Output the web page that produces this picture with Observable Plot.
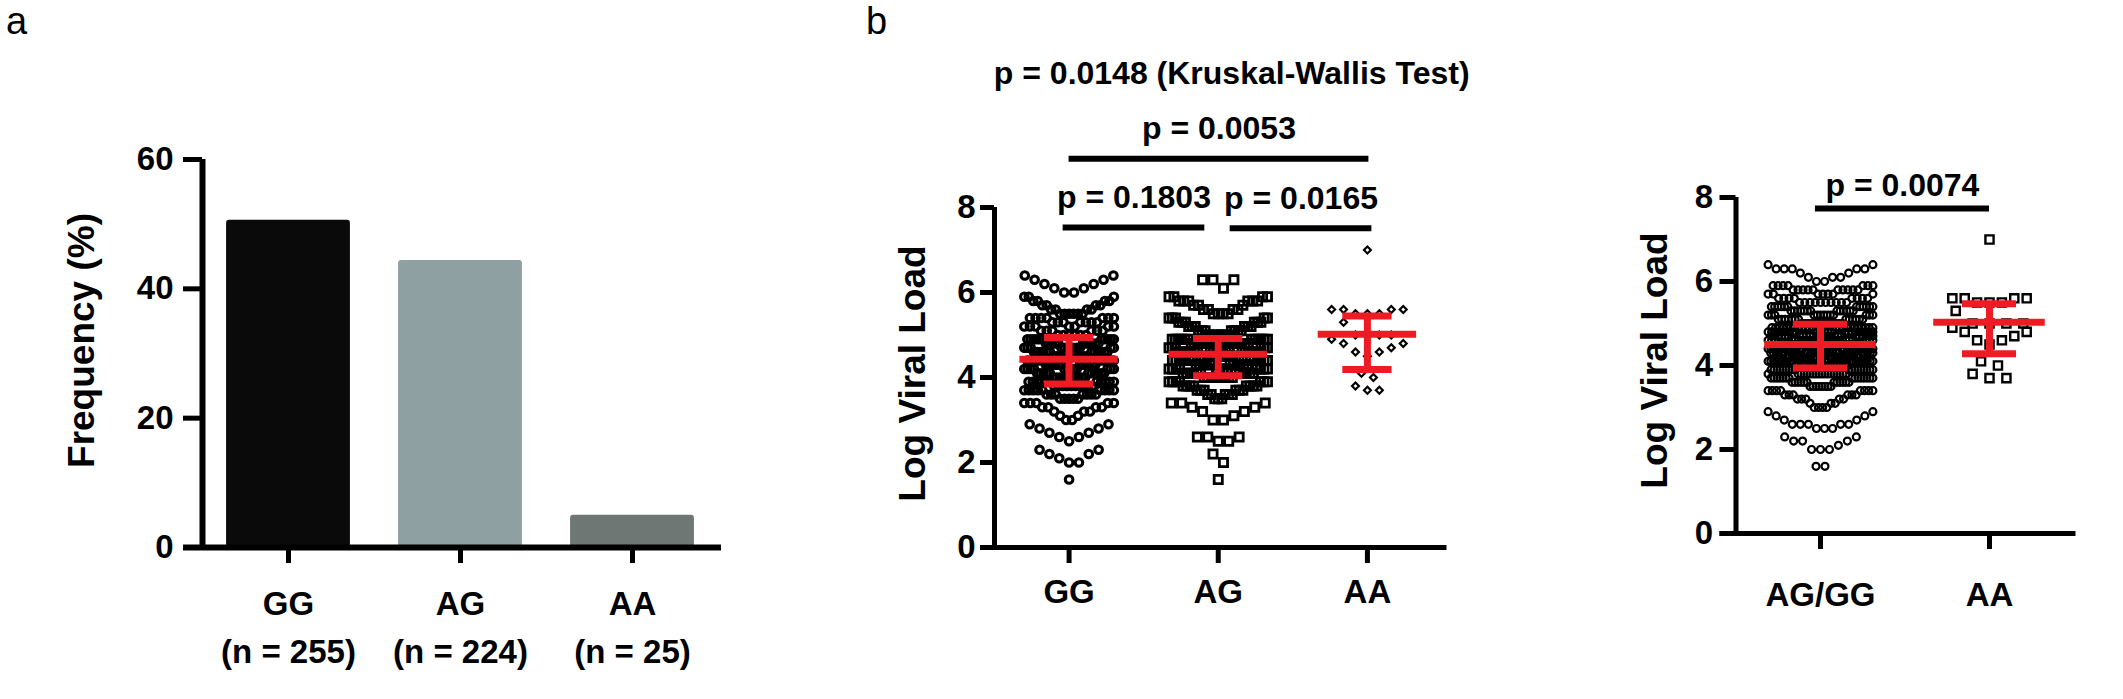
<!DOCTYPE html>
<html><head><meta charset="utf-8">
<script src="https://cdn.jsdelivr.net/npm/d3@7"></script>
<script src="https://cdn.jsdelivr.net/npm/@observablehq/plot@0.6"></script>
<style>
html,body{margin:0;padding:0;background:#fff;}
#wrap{position:relative;width:2123px;height:699px;overflow:hidden;background:#fff;font-family:"Liberation Sans",Arial,Helvetica,sans-serif;}
.panel{position:absolute;top:0;}
.tag{position:absolute;top:2px;font-size:38px;line-height:38px;font-weight:normal;color:#000;}
</style></head>
<body>
<div id="wrap">
  <div class="tag" style="left:6px">a</div>
  <div class="tag" style="left:866px">b</div>
</div>
<script>
const FONT = '"Liberation Sans", Arial, Helvetica, sans-serif';
const RED = "#ed1c24";

// ---------- Panel a data ----------
const genotypes = ["GG", "AG", "AA"];
const genotypeN = [255, 224, 25];
const frequency = [50.6, 44.4, 5.0];
const barColors = ["#0a0a0a", "#8fa0a2", "#6f7775"];
const freqTicks = [0, 20, 40, 60];

// ---------- Panel b data (value, number of points at that value) ----------
const ggRows = [[6.4,2],[6.3,2],[6.2,2],[6.1,2],[6.0,2],
  [5.9,3],[5.8,4],[5.7,4],[5.6,4],
  [5.5,6],[5.4,7],[5.3,7],[5.2,7],[5.1,6],[5.0,6],
  [4.9,11],[4.8,11],[4.7,12],[4.6,12],[4.5,12],[4.4,12],[4.3,12],[4.2,12],[4.1,11],[4.0,11],[3.9,11],
  [3.8,10],[3.7,9],[3.6,7],[3.5,5],[3.4,5],[3.3,4],[3.2,3],[3.1,2],[3.0,2],
  [2.9,2],[2.8,2],[2.7,2],[2.6,2],[2.5,1],
  [2.3,2],[2.2,2],[2.1,1],[2.0,2],[1.6,1]];
const agRows = [[6.3,3],[6.1,1],[5.9,4],[5.8,6],[5.7,3],[5.6,4],[5.5,4],
  [5.4,5],[5.3,6],[5.2,6],[5.1,7],[5.0,7],
  [4.9,12],[4.8,12],[4.7,13],[4.6,13],[4.5,13],[4.4,13],[4.3,12],[4.2,12],[4.1,12],
  [4.0,9],[3.9,7],[3.8,8],[3.7,6],[3.6,5],[3.5,3],[3.4,3],[3.3,2],[3.2,2],[3.1,1],[3.0,2],
  [2.6,3],[2.5,2],[2.2,1],[2.0,1],[1.6,1]];
const aaRows = [[7.0,1],[5.6,4],[5.5,3],[5.3,1],[5.0,4],[4.9,1],[4.8,2],[4.7,1],[4.6,2],
  [4.5,1],[4.1,1],[4.0,1],[3.8,1],[3.7,2]];

const bCats = ["GG", "AG", "AA"];
const bMid = [4.43, 4.55, 5.02];
const bLow = [3.85, 4.04, 4.19];
const bHigh = [4.94, 4.92, 5.45];
const bBrackets = [
  {label: "p = 0.1803", x1: -0.04, x2: 0.91, level: 7.53},
  {label: "p = 0.0165", x1: 1.08, x2: 2.03, level: 7.51},
  {label: "p = 0.0053", x1: 0.0, x2: 2.01, level: 9.15}
];
const bTitle = [{label: "p = 0.0148 (Kruskal-Wallis Test)", x: 1.09, level: 11.15}];

const rCats = ["AG/GG", "AA"];
const rMid = [4.50, 5.03];
const rLow = [3.94, 4.28];
const rHigh = [4.98, 5.47];
const rBrackets = [{label: "p = 0.0074", x1: -0.03, x2: 1.0, level: 7.74}];
const vlTicks = [0, 2, 4, 6, 8];

// ---------- helpers ----------
function expand(rows) { const out = []; for (const [v, c] of rows) for (let k = 0; k < c; k++) out.push(v); return out; }
// Prism-like scatter layout: bins of points, sorted, placed centre-outwards;
// a bin far wider than the column wraps into further centre-out passes
// (alternate passes shifted by half a slot so they interleave).
function swarm(values, center, half, spacing, binH) {
  const bins = d3.groups(values, v => Math.floor((v - 0.45) / binH + 1e-6));
  const cap = Math.floor(2 * half / (spacing * 0.3)) + 1;
  const pts = [];
  for (const [, vs] of bins) {
    vs.sort((a, b) => a - b);
    const passes = Math.ceil(vs.length / cap);
    const size = Math.ceil(vs.length / passes);
    for (let p = 0; p < passes; p++) {
      const chunk = vs.slice(p * size, (p + 1) * size);
      const k = chunk.length;
      const shift = (p % 2 === 1 && k > 1 && spacing * (k - 1) > 2 * half) ? 0.5 : 0;
      let s = k > 1 ? Math.min(spacing, 2 * half / (k - 1)) : 0;
      if (shift) s = 2 * half / k;
      chunk.forEach((v, j) => {
        let slot;
        if (k % 2) slot = j === 0 ? 0 : (j % 2 ? Math.ceil(j / 2) : -j / 2);
        else slot = (j % 2 === 0 ? 1 : -1) * (Math.floor(j / 2) + 0.5);
        pts.push({x: center + (slot + shift) * s, y: v});
      });
    }
  }
  return pts;
}
function place(svg, left) { svg.classList.add("panel"); svg.style.left = left + "px"; document.getElementById("wrap").appendChild(svg); }
const baseStyle = {fontFamily: FONT, background: "transparent", overflow: "visible"};
const bold = {fontWeight: "bold"};
const TICK = 33, TITLE = 37, PTXT = 32;

// ---------- Panel a ----------
const barData = genotypes.map((g, i) => ({i, g, f: frequency[i], c: barColors[i]}));
const pa = Plot.plot({
  width: 760, height: 699,
  marginLeft: 202, marginRight: 42, marginTop: 159, marginBottom: 152,
  style: baseStyle,
  x: {domain: [-0.5, 2.5]},
  y: {domain: [0, 60]},
  color: {type: "identity"},
  marks: [
    Plot.rectY(barData, {x1: d => d.i - 0.36, x2: d => d.i + 0.36, y1: 0, y2: "f", fill: "c", rx: 3}),
    Plot.ruleY([0], {strokeWidth: 6, insetLeft: -19, insetRight: -3}),
    Plot.ruleX([-0.5], {y1: 0, y2: 60, strokeWidth: 6}),
    Plot.axisY({ticks: freqTicks, tickSize: 19, tickPadding: 10, strokeWidth: 5, fontSize: TICK, ...bold, label: null}),
    Plot.axisX({ticks: [0, 1, 2], tickFormat: i => `${genotypes[i]}\n(n = ${genotypeN[i]})`, tickSize: 16, tickPadding: 18, strokeWidth: 5, fontSize: TICK, ...bold, lineHeight: 1.45, label: null}),
    Plot.text(["Frequency (%)"], {frameAnchor: "left", rotate: -90, dx: -120, dy: -13, fontSize: TITLE, ...bold, textAnchor: "middle", lineAnchor: "middle"})
  ]
});
place(pa, 0);

// ---------- Panel b (left) ----------
const ggVals = expand(ggRows), agVals = expand(agRows), aaVals = expand(aaRows);
const ggPts = swarm(ggVals, 0, 0.30, 0.066, 0.5);
const agPts = swarm(agVals, 1, 0.33, 0.07, 0.5);
const aaPts = swarm(aaVals, 2, 0.25, 0.08, 0.5);
const bStats = bCats.map((c, i) => ({i, mid: bMid[i], lo: bLow[i], hi: bHigh[i]}));
const pb = Plot.plot({
  width: 800, height: 699,
  marginLeft: 234, marginRight: 118.5, marginTop: 207, marginBottom: 152,
  style: baseStyle,
  x: {domain: [-0.5, 2.5]},
  y: {domain: [0, 8]},
  marks: [
    Plot.dot(ggPts, {x: "x", y: "y", r: 3.8, symbol: "circle", stroke: "#000", strokeWidth: 3.1, fill: "none"}),
    Plot.dot(agPts, {x: "x", y: "y", r: 4.6, symbol: "square", stroke: "#000", strokeWidth: 2.8, fill: "none"}),
    Plot.dot(aaPts, {x: "x", y: "y", r: 3.1, symbol: "diamond2", stroke: "#000", strokeWidth: 2.2, fill: "none"}),
    Plot.ruleY(bStats, {x1: d => d.i - 0.33, x2: d => d.i + 0.33, y: "mid", stroke: RED, strokeWidth: 7}),
    Plot.ruleY(bStats, {x1: d => d.i - 0.165, x2: d => d.i + 0.165, y: "lo", stroke: RED, strokeWidth: 7}),
    Plot.ruleY(bStats, {x1: d => d.i - 0.165, x2: d => d.i + 0.165, y: "hi", stroke: RED, strokeWidth: 7}),
    Plot.ruleX(bStats, {x: "i", y1: "lo", y2: "hi", stroke: RED, strokeWidth: 7}),
    Plot.ruleY([0], {strokeWidth: 5, insetLeft: -14, insetRight: -5}),
    Plot.ruleX([-0.5], {y1: 0, y2: 8, strokeWidth: 5}),
    Plot.axisY({ticks: vlTicks, tickSize: 14, tickPadding: 5, strokeWidth: 5, fontSize: TICK, ...bold, label: null}),
    Plot.axisX({ticks: [0, 1, 2], tickFormat: i => bCats[i], tickSize: 16, tickPadding: 16, strokeWidth: 5, fontSize: TICK, ...bold, label: null}),
    Plot.text(["Log Viral Load"], {frameAnchor: "left", rotate: -90, dx: -81, dy: -4, fontSize: TITLE, ...bold, textAnchor: "middle", lineAnchor: "middle"}),
    Plot.ruleY(bBrackets, {x1: "x1", x2: "x2", y: "level", strokeWidth: 6}),
    Plot.text(bBrackets, {x: d => (d.x1 + d.x2) / 2, y: "level", text: "label", dy: -30, fontSize: PTXT, ...bold, lineAnchor: "middle"}),
    Plot.text(bTitle, {x: "x", y: "level", text: "label", fontSize: PTXT, ...bold, lineAnchor: "middle"})
  ]
});
place(pb, 760);

// ---------- Panel b (right) ----------
const comboVals = ggVals.concat(agVals);
const comboPts = swarm(comboVals, 0, 0.31, 0.053, 0.5);
const aa2Pts = swarm(aaVals, 1, 0.22, 0.1, 0.5);
const rStats = rCats.map((c, i) => ({i, mid: rMid[i], lo: rLow[i], hi: rHigh[i]}));
const pr = Plot.plot({
  width: 563, height: 699,
  marginLeft: 175.5, marginRight: 49.5, marginTop: 197, marginBottom: 166,
  style: baseStyle,
  x: {domain: [-0.5, 1.5]},
  y: {domain: [0, 8]},
  marks: [
    Plot.dot(comboPts, {x: "x", y: "y", r: 3.5, symbol: "circle", stroke: "#000", strokeWidth: 2.2, fill: "none"}),
    Plot.dot(aa2Pts, {x: "x", y: "y", r: 4.6, symbol: "square", stroke: "#000", strokeWidth: 2.4, fill: "none"}),
    Plot.ruleY(rStats, {x1: d => d.i - 0.33, x2: d => d.i + 0.33, y: "mid", stroke: RED, strokeWidth: 7}),
    Plot.ruleY(rStats, {x1: d => d.i - 0.16, x2: d => d.i + 0.16, y: "lo", stroke: RED, strokeWidth: 7}),
    Plot.ruleY(rStats, {x1: d => d.i - 0.16, x2: d => d.i + 0.16, y: "hi", stroke: RED, strokeWidth: 7}),
    Plot.ruleX(rStats, {x: "i", y1: "lo", y2: "hi", stroke: RED, strokeWidth: 7}),
    Plot.ruleY([0], {strokeWidth: 5, insetLeft: -16, insetRight: -2}),
    Plot.ruleX([-0.5], {y1: 0, y2: 8, strokeWidth: 5}),
    Plot.axisY({ticks: vlTicks, tickSize: 16, tickPadding: 7, strokeWidth: 5, fontSize: TICK, ...bold, label: null}),
    Plot.axisX({ticks: [0, 1], tickFormat: i => rCats[i], tickSize: 16, tickPadding: 33, strokeWidth: 5, fontSize: TICK, ...bold, label: null}),
    Plot.text(["Log Viral Load"], {frameAnchor: "left", rotate: -90, dx: -80.5, dy: -5, fontSize: TITLE, ...bold, textAnchor: "middle", lineAnchor: "middle"}),
    Plot.ruleY(rBrackets, {x1: "x1", x2: "x2", y: "level", strokeWidth: 6}),
    Plot.text(rBrackets, {x: d => (d.x1 + d.x2) / 2, y: "level", text: "label", dy: -23, fontSize: PTXT, ...bold, lineAnchor: "middle"})
  ]
});
place(pr, 1560);
</script>
</body></html>
